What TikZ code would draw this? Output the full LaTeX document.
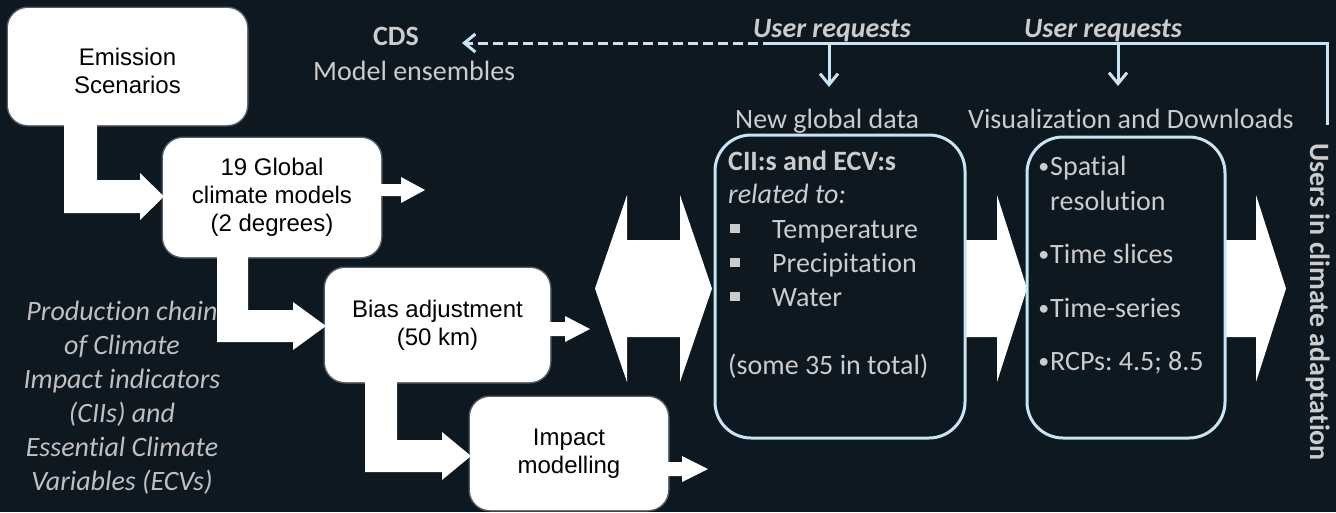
\documentclass[tikz,border=0pt]{standalone}
\usepackage{fontspec}
\setmainfont{Carlito}[Ligatures=NoCommon]
\newfontfamily\arialf{Liberation Sans}
\usetikzlibrary{arrows.meta}
\definecolor{bg}{RGB}{14,24,33}
\definecolor{txtgray}{RGB}{204,204,204}
\definecolor{dimgray}{RGB}{192,192,192}
\definecolor{lineblue}{RGB}{200,228,245}
\frenchspacing
\newcommand{\smbul}{\llap{\raisebox{2pt}{\fontsize{22}{22}\selectfont •}\hspace{1pt}}}
\begin{document}
\begin{tikzpicture}[x=1pt,y=-1pt,
  wbox/.style={fill=white, rounded corners=20pt, inner sep=0pt, align=center,
    font=\arialf\fontsize{24}{28}\selectfont, text=black,
    preaction={draw=white, line width=3pt, draw opacity=0.3}},
  bbox/.style={draw=lineblue, line width=3pt, fill=bg, rounded corners=36pt, inner sep=0pt},
  gt/.style={text=txtgray, font=\fontsize{28}{34}\selectfont, inner sep=0pt, anchor=base west},
  lt/.style={text=dimgray, font=\fontsize{28}{34}\selectfont\itshape, inner sep=0pt, anchor=base},
  blockarrow/.style={fill=white, draw=none},
  blueline/.style={draw=lineblue, line width=3pt},
  barb/.style={-{Straight Barb[length=11pt,width=18pt]}}
]
\useasboundingbox (0,0) rectangle (1336,512);
\fill[bg] (0,0) rectangle (1336,512);

% left italic caption
\node[lt] (c1) at (122,320) {Production chain};
\node[lt] (c2) at (122,354) {of Climate};
\node[lt] (c3) at (122,388) {Impact indicators};
\node[lt] (c4) at (122,422) {(CIIs) and};
\node[lt] (c5) at (122,456) {Essential Climate};
\node[lt] (c6) at (122,490) {Variables (ECVs)};

% bent block arrows
\fill[blockarrow] (64,120) -- (97,120) -- (97,180) -- (140,180) -- (140,173) -- (164,196.5) -- (140,220) -- (140,213) -- (64,213) -- cycle;
\fill[blockarrow] (217,250) -- (248,250) -- (248,310) -- (293,310) -- (293,302) -- (326,326) -- (293,350) -- (293,342) -- (217,342) -- cycle;
\fill[blockarrow] (365,375) -- (397,375) -- (397,440) -- (442,440) -- (442,432) -- (471,456) -- (442,480) -- (442,472) -- (365,472) -- cycle;

% small arrows
\fill[blockarrow] (375,184) -- (401,184) -- (401,177) -- (425,190) -- (401,203) -- (401,196) -- (375,196) -- cycle;
\fill[blockarrow] (545,322) -- (565,322) -- (565,316) -- (590,329) -- (565,342) -- (565,336) -- (545,336) -- cycle;
\fill[blockarrow] (660,462) -- (682,462) -- (682,456) -- (708,469) -- (682,482) -- (682,476) -- (660,476) -- cycle;

% double arrow
\fill[blockarrow] (595,288.5) -- (627,195) -- (627,240) -- (680,240) -- (680,195) -- (712,288.5) -- (680,382) -- (680,337) -- (627,337) -- (627,382) -- cycle;
% right arrows
\fill[blockarrow] (950,240) -- (997,240) -- (997,195) -- (1027,288.5) -- (997,382) -- (997,337) -- (950,337) -- cycle;
\fill[blockarrow] (1210,240) -- (1256,240) -- (1256,195) -- (1286,288.5) -- (1256,382) -- (1256,337) -- (1210,337) -- cycle;

% white boxes
\node[wbox, minimum width=239pt, minimum height=117pt,
  label={[align=center, font=\arialf\fontsize{24}{28}\selectfont, text=black, yshift=-4pt]center:Emission\\Scenarios}] (emis) at (127.5,66.5) {};
\node[wbox, minimum width=218pt, minimum height=119pt] (gcm) at (272,197.5) {19 Global\\climate models\\(2 degrees)};
\node[wbox, minimum width=225pt, minimum height=114pt] (bias) at (437.5,325) {Bias adjustment\\(50 km)};
\node[wbox, minimum width=198pt, minimum height=113pt] (imp) at (569,453.5) {Impact\\modelling};

% blue outlined boxes
\node[bbox, minimum width=250pt, minimum height=303pt] (ecv) at (840,286.5) {};
\node[bbox, minimum width=198pt, minimum height=301pt] (vis) at (1126,287.5) {};

% top texts
\node[gt, anchor=base] (cds) at (396,45) {\bfseries CDS};
\node[gt] (ens) at (313,80) {Model ensembles};
\node[gt, anchor=base] (ur1) at (832,37) {\bfseries\itshape User requests};
\node[gt, anchor=base] (ur2) at (1103,37) {\bfseries\itshape User requests};
\node[gt] (ngd) at (735,128) {New global data};
\node[gt] (vad) at (968,128) {Visualization and Downloads};

% connector lines
\coordinate (cdsend) at (462,43);
\coordinate (split) at (773,43);
\coordinate (corner) at (1327,43);
\coordinate (uend) at (1327,125);
\coordinate (d1s) at (829,43);
\coordinate (d1e) at (829,87);
\coordinate (d2s) at (1118,43);
\coordinate (d2e) at (1118,86);
\draw[blueline, dash pattern=on 10pt off 5pt, barb] (split) -- (cdsend);
\draw[blueline] (split) -- (corner) -- (uend);
\draw[blueline, barb] (d1s) -- (d1e);
\draw[blueline, barb] (d2s) -- (d2e);

% ECV box contents
\node[gt] (e1) at (728,170) {\bfseries CII:s and ECV:s};
\node[gt] (e2) at (728,203) {\itshape related to:};
\fill[txtgray] (730,224) rectangle (740,233);
\fill[txtgray] (730,258) rectangle (740,267);
\fill[txtgray] (730,292) rectangle (740,301);
\node[gt] (e3) at (772,238) {Temperature};
\node[gt] (e4) at (772,272) {Precipitation};
\node[gt] (e5) at (772,306) {Water};
\node[gt] (e6) at (728,374) {(some 35 in total)};

% Vis box contents
\node[gt] (v1) at (1050,175) {\smbul Spatial};
\node[gt] (v2) at (1050,210) {resolution};
\node[gt] (v3) at (1050,263) {\smbul Time slices};
\node[gt] (v4) at (1050,317) {\smbul Time-series};
\node[gt] (v5) at (1050,370) {\smbul RCPs: 4.5; 8.5};

% vertical label
\node[gt, anchor=base, rotate=-90] (users) at (1310,302) {\bfseries Users in climate adaptation};
\end{tikzpicture}
\end{document}
